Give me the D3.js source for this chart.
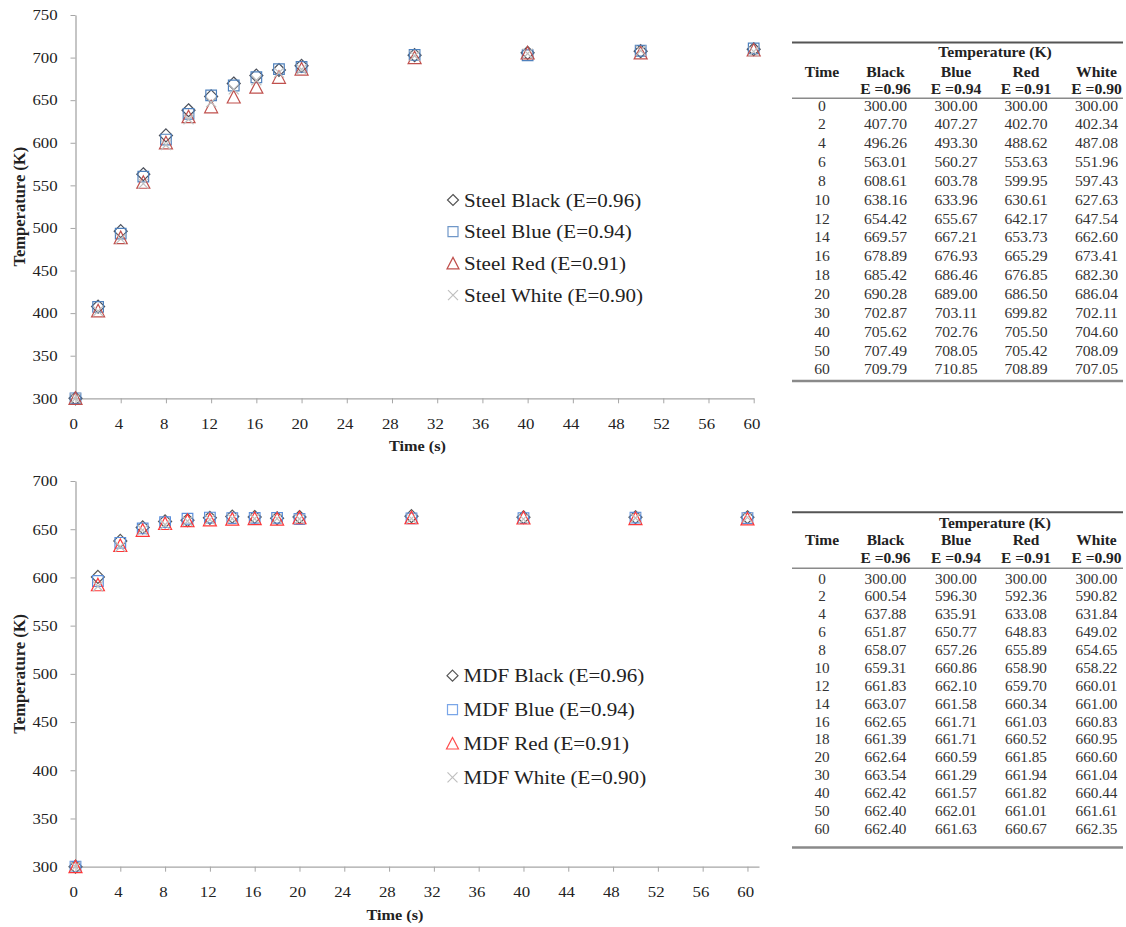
<!DOCTYPE html>
<html>
<head>
<meta charset="utf-8">
<script src="https://cdn.jsdelivr.net/npm/d3@7"></script>
<style>
  html, body { margin: 0; padding: 0; background: #fff; }
  svg { display: block; }
  text { font-family: "Liberation Serif", "Times New Roman", serif; fill: #222; }
</style>
</head>
<body>
<svg id="chart" width="1126" height="927"></svg>
<script>
// Sample times (s)
const timeS = [0, 2, 4, 6, 8, 10, 12, 14, 16, 18, 20, 30, 40, 50, 60];

// Steel plate temperatures (K)
const steelBlack = [300.00, 407.70, 496.26, 563.01, 608.61, 638.16, 654.42, 669.57, 678.89, 685.42, 690.28, 702.87, 705.62, 707.49, 709.79];
const steelBlue  = [300.00, 407.27, 493.30, 560.27, 603.78, 633.96, 655.67, 667.21, 676.93, 686.46, 689.00, 703.11, 702.76, 708.05, 710.85];
const steelRed   = [300.00, 402.70, 488.62, 553.63, 599.95, 630.61, 642.17, 653.73, 665.29, 676.85, 686.50, 699.82, 705.50, 705.42, 708.89];
const steelWhite = [300.00, 402.34, 487.08, 551.96, 597.43, 627.63, 647.54, 662.60, 673.41, 682.30, 686.04, 702.11, 704.60, 708.09, 707.05];

// MDF board temperatures (K)
const mdfBlack = [300.00, 600.54, 637.88, 651.87, 658.07, 659.31, 661.83, 663.07, 662.65, 661.39, 662.64, 663.54, 662.42, 662.40, 662.40];
const mdfBlue  = [300.00, 596.30, 635.91, 650.77, 657.26, 660.86, 662.10, 661.58, 661.71, 661.71, 660.59, 661.29, 661.57, 662.01, 661.63];
const mdfRed   = [300.00, 592.36, 633.08, 648.83, 655.89, 658.90, 659.70, 660.34, 661.03, 660.52, 661.85, 661.94, 661.82, 661.01, 660.67];
const mdfWhite = [300.00, 590.82, 631.84, 649.02, 654.65, 658.22, 660.01, 661.00, 660.83, 660.95, 660.60, 661.04, 660.44, 661.61, 662.35];

// Axis ticks and labels
const xTicks = [0, 4, 8, 12, 16, 20, 24, 28, 32, 36, 40, 44, 48, 52, 56, 60];
const steelYTicks = [300, 350, 400, 450, 500, 550, 600, 650, 700, 750];
const mdfYTicks = [300, 350, 400, 450, 500, 550, 600, 650, 700];
const colorNames = ["Black", "Blue", "Red", "White"];
const emissivity = ["0.96", "0.94", "0.91", "0.90"];

// Horizontal stretch applied to all horizontal text
const SX = 1.12;

const svg = d3.select("#chart");
svg.append("rect").attr("width", 1126).attr("height", 927).attr("fill", "#fff");

function sText(parent, x, y, str, size, opts = {}) {
  const t = parent.append("text")
    .attr("transform", `translate(${x},${y}) scale(${SX},1)`)
    .attr("text-anchor", opts.anchor || "middle")
    .attr("font-size", size)
    .attr("font-weight", opts.bold ? "bold" : "normal")
    .text(str);
  if (opts.fill) t.style("fill", opts.fill);
  return t;
}

// Marker shapes, centred on (0,0)
const shapes = {
  diamond: r => `M0,${-r}L${r},0L0,${r}L${-r},0Z`,
  square: r => `M${-r},${-r}H${r}V${r}H${-r}Z`,
  triangle: r => `M0,${-r}L${r},${r * 0.92}L${-r},${r * 0.92}Z`,
  cross: r => `M${-r},${-r}L${r},${r}M${r},${-r}L${-r},${r}`
};

function drawPanel(cfg) {
  const g = svg.append("g");
  const x = d3.scaleLinear().domain([0, cfg.xMax]).range([cfg.left, cfg.right]);
  const y = d3.scaleLinear().domain([cfg.yTicks[0], cfg.yTicks[cfg.yTicks.length - 1]]).range([cfg.bottom, cfg.top]);

  // Y axis
  const ya = g.append("g").attr("transform", `translate(${cfg.left},0)`)
    .call(d3.axisLeft(y).tickValues(cfg.yTicks).tickSize(5).tickSizeOuter(0).tickPadding(11).tickFormat(d3.format("d")));
  ya.select(".domain").attr("stroke", "#a6a6a6").attr("stroke-width", 1.3);
  ya.selectAll(".tick line").attr("stroke", "#a6a6a6");
  ya.selectAll(".tick text").attr("font-size", 15).attr("font-family", "Liberation Serif")
    .attr("transform", `scale(${SX},1)`).style("fill", "#222");

  // X axis
  const xa = g.append("g").attr("transform", `translate(0,${cfg.bottom})`)
    .call(d3.axisBottom(x).tickValues(xTicks).tickSize(5).tickSizeOuter(0).tickPadding(15).tickFormat(d3.format("d")));
  xa.select(".domain").attr("stroke", "#a6a6a6").attr("stroke-width", 1.3);
  xa.selectAll(".tick line").attr("stroke", "#a6a6a6");
  xa.selectAll(".tick text").attr("font-size", 15).attr("font-family", "Liberation Serif")
    .attr("x", -2).attr("transform", `scale(${SX},1)`).style("fill", "#222");

  // Axis titles
  sText(g, cfg.xTitleX, cfg.xTitleY, "Time (s)", 14.5, { bold: true });
  g.append("text")
    .attr("transform", `translate(${cfg.yTitleX},${(cfg.top + cfg.bottom) / 2}) rotate(-90)`)
    .attr("text-anchor", "middle").attr("dy", "0.35em")
    .attr("font-size", 16.5).attr("font-weight", "bold")
    .text("Temperature (K)");

  // Data markers, drawn series by series
  cfg.series.forEach(s => {
    g.append("g").selectAll("path").data(s.values).join("path")
      .attr("transform", (v, i) => `translate(${x(timeS[i])},${y(v)})`)
      .attr("d", shapes[s.shape](s.size))
      .attr("fill", "none").attr("stroke", s.color).attr("stroke-width", 1.2);
  });

  // Legend
  cfg.series.forEach((s, i) => {
    const ly = cfg.legendY + i * cfg.legendStep;
    g.append("path")
      .attr("transform", `translate(${cfg.legendX},${ly})`)
      .attr("d", shapes[s.shape](s.legendSize))
      .attr("fill", "none").attr("stroke", s.legendColor || s.color).attr("stroke-width", 1.2);
    sText(g, cfg.legendX + 11, ly + 6.5, s.label, 18.8, { anchor: "start" });
  });
}

drawPanel({
  left: 75.5, right: 753.7, top: 15, bottom: 398.3, xMax: 60,
  yTicks: steelYTicks, xTitleX: 417.5, xTitleY: 451, yTitleX: 19,
  legendX: 453, legendY: 200, legendStep: 31.7,
  series: [
    { values: steelBlack, shape: "diamond", size: 6.5, legendSize: 5.5, color: "#4a4f5a", legendColor: "#555", label: "Steel Black (E=0.96)" },
    { values: steelBlue, shape: "square", size: 5.3, legendSize: 5, color: "#4F81BD", legendColor: "#6f97c8", label: "Steel Blue (E=0.94)" },
    { values: steelRed, shape: "triangle", size: 6.5, legendSize: 6, color: "#C0504D", label: "Steel Red (E=0.91)" },
    { values: steelWhite, shape: "cross", size: 5, legendSize: 5, color: "#BFBFBF", label: "Steel White (E=0.90)" }
  ]
});

drawPanel({
  left: 75.5, right: 759, top: 481, bottom: 866.7, xMax: 61.03,
  yTicks: mdfYTicks, xTitleX: 395, xTitleY: 920, yTitleX: 19,
  legendX: 452.5, legendY: 675.7, legendStep: 33.9,
  series: [
    { values: mdfBlack, shape: "diamond", size: 6.5, legendSize: 5.5, color: "#555", label: "MDF Black (E=0.96)" },
    { values: mdfBlue, shape: "square", size: 5.3, legendSize: 5, color: "#5b8fdc", legendColor: "#7aa6e8", label: "MDF Blue (E=0.94)" },
    { values: mdfRed, shape: "triangle", size: 6.5, legendSize: 6, color: "#ff3838", legendColor: "#ff4d4d", label: "MDF Red (E=0.91)" },
    { values: mdfWhite, shape: "cross", size: 5, legendSize: 5, color: "#BFBFBF", label: "MDF White (E=0.90)" }
  ]
});

// Data tables beside each chart
function drawTable(cfg, cols) {
  const g = svg.append("g");
  const colX = [822, 885.5, 956, 1026, 1096.5];
  g.append("line").attr("x1", 792).attr("x2", 1123).attr("y1", cfg.topRule).attr("y2", cfg.topRule)
    .attr("stroke", "#555").attr("stroke-width", 2);
  g.append("line").attr("x1", 792).attr("x2", 1123).attr("y1", cfg.headRule).attr("y2", cfg.headRule)
    .attr("stroke", "#8a8a8a").attr("stroke-width", 1.6);
  g.append("line").attr("x1", 792).attr("x2", 1123).attr("y1", cfg.bottomRule).attr("y2", cfg.bottomRule)
    .attr("stroke", "#8a8a8a").attr("stroke-width", 2.6);

  sText(g, 995, cfg.h1, "Temperature (K)", cfg.boldSize, { bold: true });
  sText(g, colX[0], cfg.h2, "Time", cfg.boldSize, { bold: true });
  colorNames.forEach((n, i) => {
    sText(g, colX[i + 1], cfg.h2, n, cfg.boldSize, { bold: true });
    sText(g, colX[i + 1], cfg.h3, "E =" + emissivity[i], cfg.boldSize, { bold: true });
  });
  timeS.forEach((t, r) => {
    const yy = cfg.row0 + r * cfg.rowStep;
    sText(g, colX[0], yy, String(t), cfg.size, { fill: "#333" });
    cols.forEach((c, i) => sText(g, colX[i + 1], yy, c[r].toFixed(2), cfg.size, { fill: "#333" }));
  });
}

drawTable({ topRule: 42.5, headRule: 98.3, bottomRule: 381, h1: 56.5, h2: 76.5, h3: 93.5,
  row0: 110.5, rowStep: 18.85, size: 14, boldSize: 14 },
  [steelBlack, steelBlue, steelRed, steelWhite]);

drawTable({ topRule: 512.3, headRule: 568.3, bottomRule: 847.5, h1: 527.5, h2: 545, h3: 563,
  row0: 583.5, rowStep: 17.88, size: 13.6, boldSize: 13.8 },
  [mdfBlack, mdfBlue, mdfRed, mdfWhite]);
</script>
</body>
</html>
